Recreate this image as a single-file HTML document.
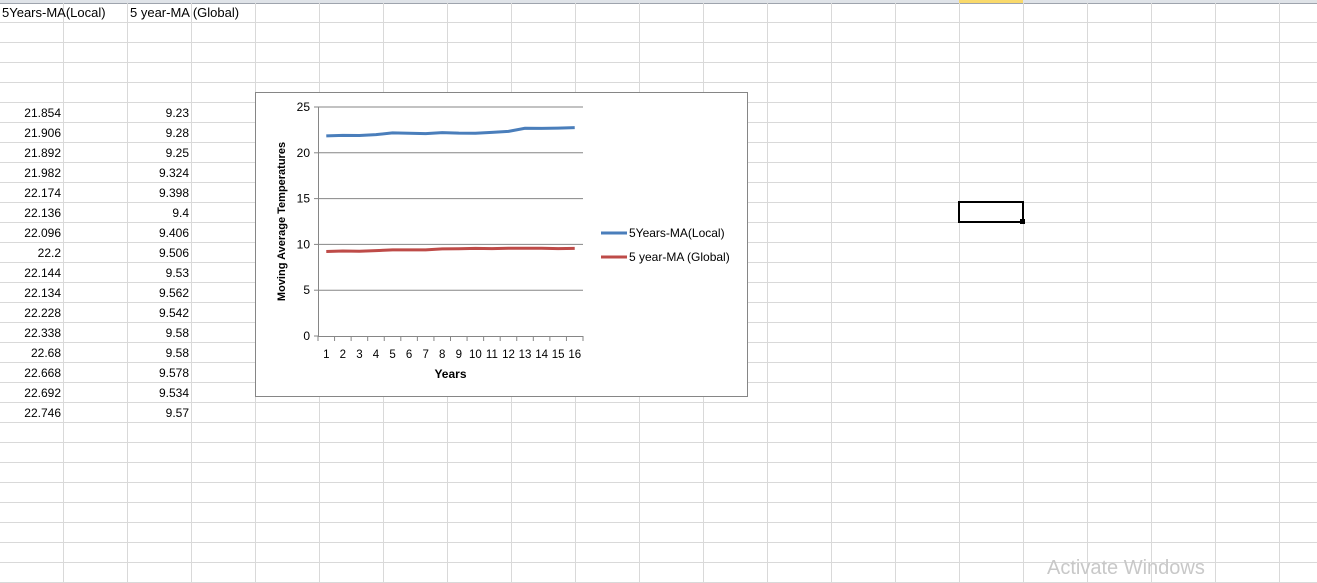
<!DOCTYPE html>
<html><head><meta charset="utf-8"><style>
body{margin:0;width:1317px;height:583px;overflow:hidden;background:#fff;font-family:"Liberation Sans",sans-serif;position:relative}
.abs{position:absolute}
.cell{position:absolute;font-size:12px;color:#000;line-height:20px;height:20px}
.hdr{font-size:13px}
</style></head><body>
<svg class="abs" style="left:0;top:0" width="1317" height="583" id="grid"></svg>
<div class="cell hdr" style="left:2px;top:3px">5Years-MA(Local)</div>
<div class="cell hdr" style="left:130px;top:3px">5 year-MA (Global)</div>
<div id="cells"></div>
<div class="abs" style="left:958px;top:201px;width:62px;height:18px;border:2px solid #000"></div>
<div class="abs" style="left:1020px;top:219px;width:5px;height:5px;background:#000"></div>
<div class="abs" style="left:1047px;top:557px;font-size:20px;color:#c8c8c8">Activate Windows</div>
<svg class="abs" style="left:255px;top:92px" width="494" height="306" id="chart"></svg>
<script>
const years=["1","2","3","4","5","6","7","8","9","10","11","12","13","14","15","16"];
const localMA=[21.854,21.906,21.892,21.982,22.174,22.136,22.096,22.2,22.144,22.134,22.228,22.338,22.68,22.668,22.692,22.746];
const globalMA=[9.23,9.28,9.25,9.324,9.398,9.4,9.406,9.506,9.53,9.562,9.542,9.58,9.58,9.578,9.534,9.57];
const yTicks=[0,5,10,15,20,25];
const NS="http://www.w3.org/2000/svg";
function mk(p,t,a){const e=document.createElementNS(NS,t);for(const k in a)e.setAttribute(k,a[k]);p.appendChild(e);return e;}
const g=document.getElementById('grid');
mk(g,'rect',{x:0,y:0,width:1317,height:3,fill:'#dfe3e8'});
mk(g,'rect',{x:959,y:0,width:64,height:3,fill:'#f9d96b'});
mk(g,'line',{x1:0,y1:3.5,x2:1317,y2:3.5,stroke:'#9ea4ad'});
for(let x=63;x<1317;x+=64)mk(g,'line',{x1:x+.5,y1:3,x2:x+.5,y2:583,stroke:'#d9d9d9'});
for(let y=22;y<583;y+=20)mk(g,'line',{x1:0,y1:y+.5,x2:1317,y2:y+.5,stroke:'#d9d9d9'});
const cells=document.getElementById('cells');
localMA.forEach((v,i)=>{
 const a=document.createElement('div');a.className='cell';a.style.cssText=`right:${1317-61}px;top:${103+i*20}px`;a.textContent=v;
 
 
 cells.appendChild(a);
 const b=document.createElement('div');b.className='cell';b.style.cssText=`right:${1317-189}px;top:${103+i*20}px`;b.textContent=globalMA[i];
 
 
 cells.appendChild(b);
});
const c=document.getElementById('chart');
mk(c,'rect',{x:0.5,y:0.5,width:492,height:304,fill:'#fff',stroke:'#868686'});
const X0=63,X1=328,Y0=244,Y1=15;
const bw=(X1-X0)/years.length;
const xs=i=>X0+bw*(i+.5), ys=v=>Y0-(v/25)*(Y0-Y1);
yTicks.forEach(t=>{
 if(t>0){const l=mk(c,'line',{x1:X0,y1:ys(t),x2:X1,y2:ys(t),stroke:'#868686'});}
 mk(c,'line',{x1:X0-4,y1:ys(t),x2:X0,y2:ys(t),stroke:'#868686'});
 const tx=mk(c,'text',{x:X0-8,y:ys(t)+4,'font-size':12,'text-anchor':'end',fill:'#000'});tx.textContent=t;
 
});
mk(c,'line',{x1:X0+.5,y1:Y1,x2:X0+.5,y2:Y0,stroke:'#868686'});
mk(c,'line',{x1:X0,y1:Y0+.5,x2:X1,y2:Y0+.5,stroke:'#868686'});
for(let i=0;i<=years.length;i++)mk(c,'line',{x1:X0+bw*i,y1:Y0,x2:X0+bw*i,y2:Y0+5,stroke:'#868686'});
years.forEach((y,i)=>{const t=mk(c,'text',{x:xs(i),y:Y0+22,'font-size':11.5,'text-anchor':'middle',fill:'#000'});t.textContent=y;
 });
const xt=mk(c,'text',{x:(X0+X1)/2,y:Y0+42,'font-size':12,'font-weight':'bold','text-anchor':'middle'});xt.textContent='Years';

const yt=mk(c,'text',{x:0,y:0,'font-size':11,'font-weight':'bold','text-anchor':'middle',transform:`translate(30,${(Y0+Y1)/2}) rotate(-90)`});yt.textContent='Moving Average Temperatures';

function series(d,col,name){const p=mk(c,'polyline',{points:d.map((v,i)=>xs(i)+','+ys(v)).join(' '),fill:'none',stroke:col,'stroke-width':3,'stroke-linejoin':'round'});
 }
series(localMA,'#4a7ebb','line-local');
series(globalMA,'#be4b48','line-global');
[['5Years-MA(Local)','#4a7ebb',141],['5 year-MA (Global)','#be4b48',165]].forEach(([n,col,y])=>{
 const gr=mk(c,'g',{});
 mk(gr,'line',{x1:346,y1:y,x2:372,y2:y,stroke:col,'stroke-width':3});
 const t=mk(gr,'text',{x:374,y:y+4,'font-size':12});t.textContent=n;
});
</script>
</body></html>
